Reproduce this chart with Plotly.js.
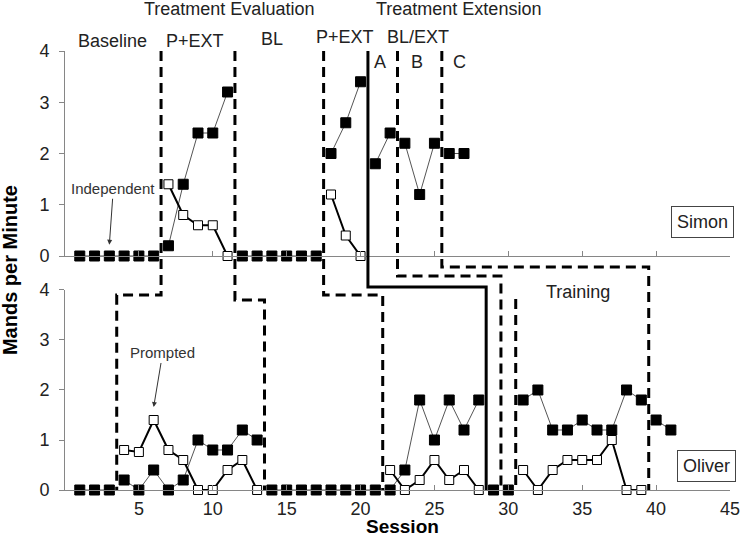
<!DOCTYPE html>
<html>
<head>
<meta charset="utf-8">
<script src="https://cdn.plot.ly/plotly-3.0.1.min.js"></script>
<style>
  body { margin: 0; background: #fff; }
  #chart { width: 746px; height: 538px; }
</style>
</head>
<body>
<div id="chart"></div>
<script>
// Simon (top panel)
const simonSessions = [1, 2, 3, 4, 5, 6, 7, 8, 9, 10, 11, 12, 13, 14, 15, 16, 17, 18, 19, 20, 21, 22, 23, 24, 25, 26, 27];
const simonIndependent = [0, 0, 0, 0, 0, 0, 0.2, 1.4, 2.4, 2.4, 3.2, 0, 0, 0, 0, 0, 0, 2.0, 2.6, 3.4, 1.8, 2.4, 2.2, 1.2, 2.2, 2.0, 2.0];
const simonPrompted = [null, null, null, null, null, null, 1.4, 0.8, 0.6, 0.6, 0, null, null, null, null, null, null, 1.2, 0.4, 0, null, null, null, null, null, null, null];

// Oliver (bottom panel)
const oliverSessions = [1, 2, 3, 4, 5, 6, 7, 8, 9, 10, 11, 12, 13, 14, 15, 16, 17, 18, 19, 20, 21, 22, 23, 24, 25, 26, 27, 28, 29, 30, 31, 32, 33, 34, 35, 36, 37, 38, 39, 40, 41];
const oliverIndependent = [0, 0, 0, 0.2, 0, 0.4, 0, 0.2, 1.0, 0.8, 0.8, 1.2, 1.0, 0, 0, 0, 0, 0, 0, 0, 0, 0, 0.4, 1.8, 1.0, 1.8, 1.2, 1.8, 0, 0, 1.8, 2.0, 1.2, 1.2, 1.4, 1.2, 1.2, 2.0, 1.8, 1.4, 1.2];
const oliverPrompted = [null, null, null, 0.8, 0.76, 1.4, 0.8, 0.6, 0, 0, 0.4, 0.6, 0, null, null, null, null, null, null, null, null, 0.4, 0, 0.2, 0.6, 0.2, 0.4, 0, null, null, 0.4, 0, 0.4, 0.6, 0.6, 0.6, 1.0, 0, 0, null, null];

// phase changes (session boundaries)
const simonPhaseX = [6.5, 11.5, 17.5, 20.5, 22.5, 25.5];
const oliverPhaseX = [3.5, 13.5, 21.5, 28.5, 29.5, 39.5];
const stepLevels = [3.9, 3.8, 3.9, 4.06, 4.28, 4.46];  // where each line crosses over, in Oliver's units
const trainingStartX = 30.5;
const trainingTop = 3.82;

const TOP_DOM = [0.533, 1];
const BOT_DOM = [0, 0.4556];
const FONT = 'Liberation Sans, Arial, sans-serif';

function topPaper(v) { return TOP_DOM[0] + v / 4 * (TOP_DOM[1] - TOP_DOM[0]); }
function botPaper(v) { return BOT_DOM[0] + v / 4 * (BOT_DOM[1] - BOT_DOM[0]); }

// break a series wherever a phase line falls between two sessions
function splitAtPhases(xs, ys, breaks) {
    const outX = [], outY = [];
    xs.forEach((x, i) => {
        if (i > 0 && breaks.some(b => b > xs[i - 1] && b < x)) {
            outX.push(null);
            outY.push(null);
        }
        outX.push(x);
        outY.push(ys[i]);
    });
    return {x: outX, y: outY};
}

function independentTrace(xs, ys, breaks, xa, ya) {
    const s = splitAtPhases(xs, ys, breaks);
    return {
        x: s.x, y: s.y, xaxis: xa, yaxis: ya,
        type: 'scatter', mode: 'lines+markers', cliponaxis: false,
        line: {color: '#555', width: 1},
        marker: {symbol: 'square', size: 10, color: '#000', line: {color: '#000', width: 1}},
        hoverinfo: 'x+y'
    };
}

function promptedTrace(xs, ys, breaks, xa, ya) {
    const s = splitAtPhases(xs, ys, breaks);
    return {
        x: s.x, y: s.y, xaxis: xa, yaxis: ya,
        type: 'scatter', mode: 'lines+markers', cliponaxis: false,
        line: {color: '#000', width: 2},
        marker: {symbol: 'square', size: 9, color: '#fff', line: {color: '#000', width: 1}},
        hoverinfo: 'x+y'
    };
}

const oliverBreaks = oliverPhaseX.concat([trainingStartX]);

const data = [
    independentTrace(simonSessions, simonIndependent, simonPhaseX, 'x', 'y'),
    promptedTrace(simonSessions, simonPrompted, simonPhaseX, 'x', 'y'),
    independentTrace(oliverSessions, oliverIndependent, oliverBreaks, 'x2', 'y2'),
    promptedTrace(oliverSessions, oliverPrompted, oliverBreaks, 'x2', 'y2')
];

// stepped phase-change lines running through both panels
const shapes = simonPhaseX.map((sx, i) => ({
    type: 'path', xref: 'x', yref: 'paper',
    path: `M ${sx},${topPaper(4)} V ${botPaper(stepLevels[i])} H ${oliverPhaseX[i]} V ${botPaper(0)}`,
    line: {color: '#000', width: 3, dash: i === 3 ? 'solid' : '10px,6px'}
}));
shapes.push({
    type: 'line', xref: 'x', yref: 'paper',
    x0: trainingStartX, x1: trainingStartX, y0: botPaper(trainingTop), y1: botPaper(0),
    line: {color: '#000', width: 3, dash: '10px,6px'}
});

const labelFont = {family: FONT, size: 18, color: '#222'};
function label(text, x, y, xref) {
    return {
        text: text, x: x, y: y, xref: xref || 'x', yref: 'paper',
        xanchor: 'center', yanchor: 'middle', showarrow: false, font: labelFont
    };
}

const annotations = [
    label('Treatment Evaluation', 11.1, 1.096),
    label('Treatment Extension', 26.6, 1.096),
    label('Baseline', 3.2, 1.023),
    label('P+EXT', 8.8, 1.023),
    label('BL', 14.0, 1.027),
    label('P+EXT', 18.95, 1.032),
    label('BL/EXT', 23.9, 1.032),
    label('A', 21.3, 0.975),
    label('B', 23.8, 0.975),
    label('C', 26.7, 0.975),
    label('Training', 34.7, 0.451, 'x2'),
    {
        text: 'Simon', xref: 'paper', yref: 'paper', x: 0.958, y: 0.610,
        xanchor: 'center', yanchor: 'middle', showarrow: false,
        font: labelFont, bordercolor: '#444', borderwidth: 1, borderpad: 5, bgcolor: '#fff'
    },
    {
        text: 'Oliver', xref: 'paper', yref: 'paper', x: 0.965, y: 0.0547,
        xanchor: 'center', yanchor: 'middle', showarrow: false,
        font: labelFont, bordercolor: '#444', borderwidth: 1, borderpad: 5, bgcolor: '#fff'
    },
    {
        text: 'Independent', xref: 'x', yref: 'y', x: 3, y: 0.22, ax: 4, ay: -56,
        showarrow: true, arrowhead: 2, arrowsize: 1, arrowwidth: 1, arrowcolor: '#333',
        font: {family: FONT, size: 15, color: '#333'}
    },
    {
        text: 'Prompted', xref: 'x2', yref: 'y2', x: 6.0, y: 1.66, ax: 9, ay: -54,
        showarrow: true, arrowhead: 2, arrowsize: 1, arrowwidth: 1, arrowcolor: '#333',
        font: {family: FONT, size: 15, color: '#333'}
    },
    {
        text: '<b>Mands per Minute</b>', textangle: -90, xref: 'paper', yref: 'paper',
        x: -0.0827, y: 0.501, xanchor: 'center', yanchor: 'middle', showarrow: false,
        font: {family: FONT, size: 20, color: '#000'}
    },
    {
        text: '<b>Session</b>', xref: 'paper', yref: 'paper',
        x: 0.507, y: -0.084, xanchor: 'center', yanchor: 'middle', showarrow: false,
        font: {family: FONT, size: 19, color: '#000'}
    }
];

const tickVals = [5, 10, 15, 20, 25, 30, 35, 40, 45];
const xCommon = {
    range: [0, 45], tickvals: tickVals, showgrid: false, zeroline: false,
    showline: true, linecolor: '#868686', linewidth: 1,
    ticks: 'inside', ticklen: 5, tickcolor: '#868686', fixedrange: true
};
const yCommon = {
    range: [0, 4], dtick: 1, showgrid: false, zeroline: false,
    showline: true, linecolor: '#868686', linewidth: 1,
    ticks: 'outside', ticklen: 5, tickcolor: '#868686', ticklabelstandoff: 6,
    tickfont: {family: FONT, size: 18, color: '#222'}, fixedrange: true
};

const layout = {
    width: 746, height: 538,
    margin: {l: 65, r: 16, t: 51, b: 48},
    paper_bgcolor: '#fff', plot_bgcolor: '#fff',
    showlegend: false,
    font: {family: FONT},
    xaxis: Object.assign({}, xCommon, {anchor: 'y', showticklabels: false}),
    yaxis: Object.assign({}, yCommon, {domain: TOP_DOM, anchor: 'x'}),
    xaxis2: Object.assign({}, xCommon, {
        anchor: 'y2', matches: 'x', ticklabelstandoff: 2,
        tickfont: {family: FONT, size: 18, color: '#222'}
    }),
    yaxis2: Object.assign({}, yCommon, {domain: BOT_DOM, anchor: 'x2'}),
    shapes: shapes,
    annotations: annotations
};

Plotly.newPlot('chart', data, layout, {displayModeBar: false, staticPlot: true});
</script>
</body>
</html>
